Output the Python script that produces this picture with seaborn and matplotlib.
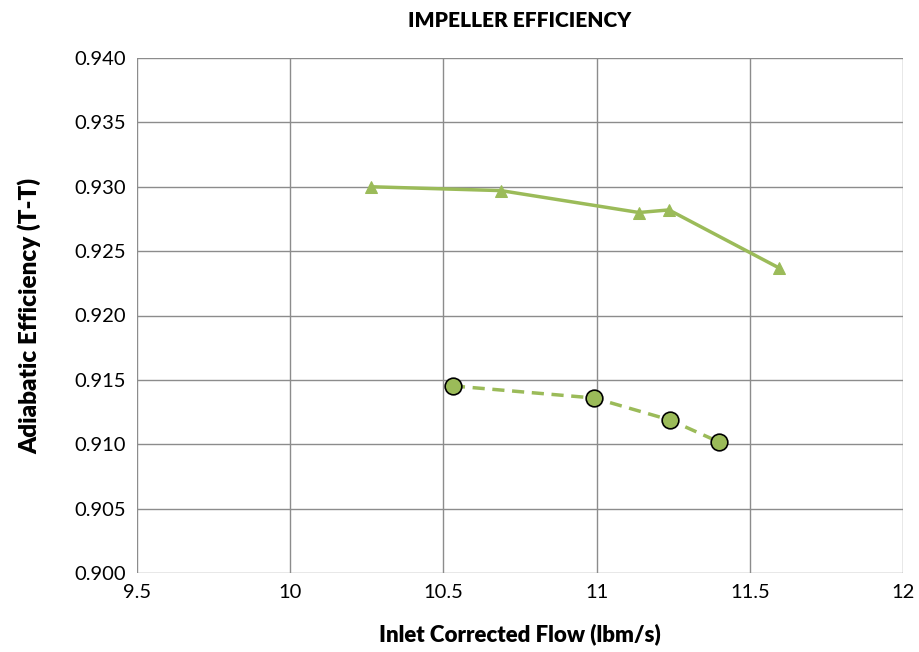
import numpy as np
import pandas as pd
import matplotlib
matplotlib.use('Agg')
import matplotlib.pyplot as plt
import seaborn as sns

# series
tri_flow = [10.264, 10.688, 11.138, 11.236, 11.595]
tri_eff = [0.9300, 0.9297, 0.9280, 0.9282, 0.9237]
circ_flow = [10.531, 10.992, 11.240, 11.400]
circ_eff = [0.91453, 0.91359, 0.91188, 0.91017]

x_ticks = [9.5, 10, 10.5, 11, 11.5, 12]
x_labels = ['9.5', '10', '10.5', '11', '11.5', '12']
y_ticks = np.arange(0.900, 0.9401, 0.005)

green = '#9BBB59'

sns.set_theme(style='whitegrid')
plt.rcParams['font.family'] = ['Lato', 'DejaVu Sans']
plt.rcParams['text.color'] = 'black'
plt.rcParams['axes.labelcolor'] = 'black'

fig = plt.figure(figsize=(9.19, 6.52), dpi=100)
ax = fig.add_axes([137 / 919, 1 - 573 / 652, (903 - 137) / 919, (573 - 58) / 652])

tri = pd.DataFrame({'flow': tri_flow, 'eff': tri_eff})
circ = pd.DataFrame({'flow': circ_flow, 'eff': circ_eff})

sns.lineplot(data=tri, x='flow', y='eff', ax=ax, color=green, linewidth=2.5,
             marker='^', markersize=9, markeredgecolor=green, sort=False)
sns.lineplot(data=circ, x='flow', y='eff', ax=ax, color=green, linewidth=2.5,
             linestyle=(0, (3.5, 2.2)), marker='o', markersize=12,
             markerfacecolor=green, markeredgecolor='black', markeredgewidth=1.2,
             sort=False)

ax.set_xlim(9.5, 12)
ax.set_ylim(0.900, 0.940)
ax.set_xticks(x_ticks)
ax.set_xticklabels(x_labels)
ax.set_yticks(y_ticks)
ax.set_yticklabels([f'{v:.3f}' for v in y_ticks])
ax.tick_params(axis='both', labelsize=14.5, colors='black', length=0, pad=8)

ax.grid(True, color='#8c8c8c', linewidth=1)
for s in ax.spines.values():
    s.set_visible(False)
ax.set_facecolor('white')

ax.set_xlabel('Inlet Corrected Flow (lbm/s)', fontsize=16, fontweight='heavy', labelpad=16)
ax.set_ylabel('Adiabatic Efficiency (T-T)', fontsize=17.5, fontweight='heavy', labelpad=24)
ax.set_title('IMPELLER EFFICIENCY', fontsize=15, fontweight='heavy', pad=22)

fig.savefig('out.png', dpi=100)
